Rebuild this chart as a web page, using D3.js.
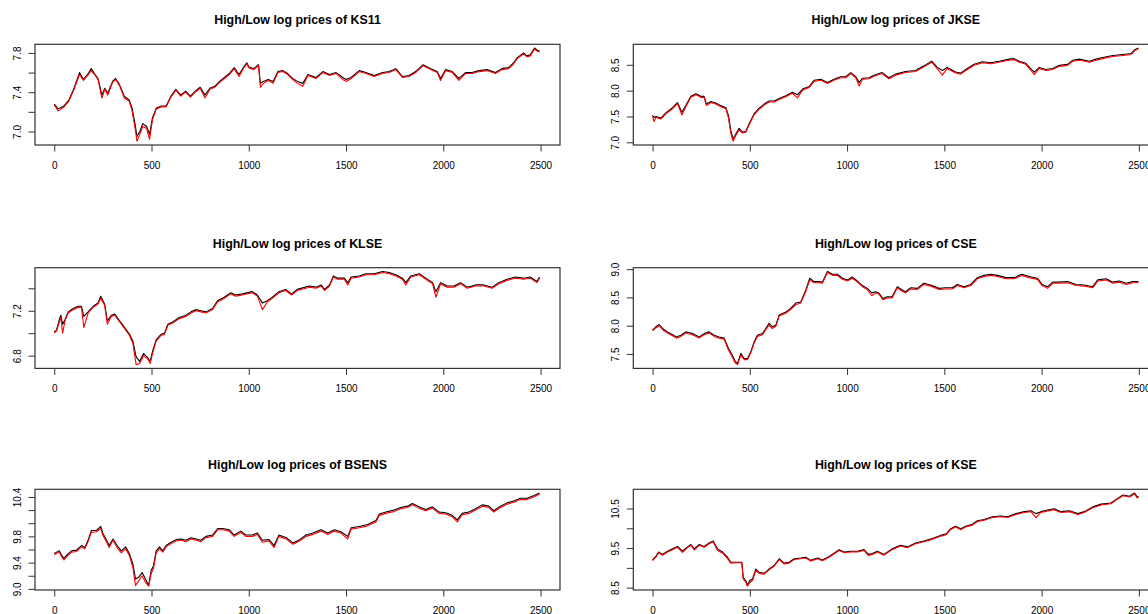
<!DOCTYPE html>
<html>
<head>
<meta charset="utf-8">
<script src="https://cdn.jsdelivr.net/npm/d3@7"></script>
<style>
  body { margin: 0; background: #ffffff; }
  svg { display: block; }
</style>
</head>
<body>
<svg id="chart" width="1148" height="614"></svg>
<script>
// ---- Daily high / low log prices (trading-day index -> log price) ----

const ks11Day = [0,20,50,75,100,130,150,175,190,210,225,245,260,275,300,315,335,360,385,400,415,425,440,455,475,490,505,525,550,575,600,625,650,675,700,725,750,775,800,825,850,875,900,925,950,975,990,1000,1025,1050,1060,1075,1100,1125,1150,1175,1200,1225,1250,1278,1304,1346,1381,1415,1449,1483,1500,1526,1568,1602,1645,1688,1722,1756,1790,1824,1858,1896,1935,1969,1986,2012,2046,2080,2114,2148,2183,2225,2268,2302,2336,2362,2379,2413,2430,2447,2469,2481,2495];
const ks11High = [7.28,7.23,7.26,7.32,7.43,7.60,7.53,7.59,7.64,7.58,7.54,7.37,7.44,7.39,7.51,7.54,7.48,7.36,7.32,7.24,7.08,6.95,7.00,7.08,7.05,6.97,7.14,7.24,7.26,7.26,7.36,7.43,7.37,7.41,7.36,7.41,7.45,7.37,7.44,7.46,7.51,7.55,7.59,7.65,7.58,7.66,7.70,7.66,7.64,7.68,7.49,7.51,7.53,7.51,7.61,7.62,7.59,7.54,7.51,7.49,7.58,7.55,7.61,7.58,7.60,7.55,7.53,7.55,7.62,7.60,7.57,7.60,7.61,7.64,7.56,7.57,7.61,7.68,7.64,7.61,7.54,7.63,7.61,7.54,7.60,7.60,7.62,7.63,7.60,7.64,7.65,7.70,7.75,7.80,7.77,7.78,7.85,7.83,7.82];
const ks11Low = [7.27,7.21,7.25,7.31,7.42,7.58,7.52,7.58,7.62,7.57,7.53,7.34,7.43,7.37,7.50,7.53,7.47,7.34,7.31,7.21,7.04,6.90,6.97,7.05,7.03,6.92,7.12,7.23,7.25,7.25,7.35,7.42,7.36,7.40,7.35,7.40,7.44,7.34,7.43,7.45,7.50,7.54,7.58,7.64,7.56,7.65,7.69,7.65,7.63,7.67,7.45,7.49,7.52,7.49,7.60,7.61,7.58,7.53,7.49,7.46,7.57,7.54,7.60,7.57,7.59,7.53,7.51,7.54,7.61,7.59,7.56,7.59,7.60,7.63,7.55,7.56,7.60,7.67,7.63,7.60,7.52,7.62,7.60,7.52,7.59,7.59,7.61,7.62,7.59,7.63,7.64,7.69,7.74,7.79,7.76,7.77,7.84,7.82,7.81];

const jkseDay = [0,8,17,43,68,103,128,151,171,197,223,248,265,277,300,325,351,377,390,402,414,428,445,462,479,500,522,548,574,599,625,651,685,719,745,771,805,830,865,899,933,967,993,1019,1045,1062,1079,1113,1139,1180,1215,1249,1301,1352,1395,1435,1464,1490,1515,1558,1584,1610,1653,1696,1739,1782,1833,1859,1885,1919,1945,1962,1988,2022,2057,2091,2134,2160,2194,2246,2280,2314,2366,2418,2461,2478,2498];
const jkseHigh = [7.52,7.48,7.50,7.47,7.57,7.67,7.77,7.58,7.71,7.89,7.94,7.89,7.89,7.74,7.79,7.76,7.71,7.67,7.52,7.23,7.07,7.16,7.27,7.20,7.21,7.39,7.55,7.66,7.74,7.80,7.80,7.85,7.90,7.97,7.92,8.03,8.08,8.20,8.22,8.16,8.22,8.27,8.27,8.35,8.27,8.16,8.24,8.25,8.30,8.35,8.25,8.32,8.37,8.39,8.48,8.57,8.45,8.39,8.45,8.36,8.34,8.41,8.51,8.56,8.54,8.57,8.61,8.62,8.57,8.53,8.42,8.36,8.45,8.41,8.43,8.49,8.51,8.59,8.61,8.57,8.61,8.64,8.68,8.70,8.72,8.79,8.825];
const jkseLow = [7.50,7.40,7.48,7.45,7.55,7.65,7.75,7.53,7.69,7.87,7.92,7.87,7.87,7.71,7.77,7.74,7.69,7.65,7.48,7.18,7.02,7.13,7.24,7.18,7.19,7.37,7.53,7.64,7.72,7.78,7.78,7.83,7.88,7.95,7.86,8.01,8.06,8.18,8.20,8.14,8.20,8.25,8.25,8.33,8.25,8.09,8.22,8.23,8.28,8.33,8.23,8.30,8.35,8.37,8.46,8.55,8.42,8.30,8.43,8.34,8.32,8.39,8.49,8.54,8.52,8.55,8.59,8.60,8.55,8.51,8.39,8.31,8.43,8.39,8.41,8.47,8.49,8.57,8.59,8.55,8.59,8.62,8.66,8.68,8.70,8.77,8.81];

const klseDay = [0,12,26,34,43,55,72,97,123,140,152,174,200,225,239,259,273,294,311,336,362,387,404,421,439,459,481,493,507,524,549,567,584,609,643,677,703,729,754,780,814,840,874,908,933,968,1019,1044,1070,1096,1121,1155,1189,1220,1249,1312,1346,1372,1389,1415,1435,1457,1491,1509,1526,1568,1602,1645,1688,1722,1756,1790,1807,1833,1876,1910,1945,1962,1986,2020,2055,2089,2123,2166,2208,2251,2285,2328,2370,2413,2447,2481,2495];
const klseHigh = [7.01,7.03,7.12,7.16,7.08,7.12,7.19,7.22,7.24,7.24,7.15,7.19,7.24,7.27,7.33,7.26,7.11,7.16,7.17,7.11,7.05,6.99,6.93,6.79,6.75,6.82,6.78,6.75,6.85,6.94,6.99,7.00,7.08,7.10,7.14,7.16,7.19,7.21,7.20,7.19,7.22,7.29,7.32,7.36,7.34,7.35,7.37,7.34,7.27,7.29,7.32,7.37,7.39,7.35,7.39,7.42,7.41,7.43,7.39,7.43,7.51,7.49,7.49,7.45,7.50,7.51,7.53,7.53,7.55,7.54,7.52,7.49,7.45,7.51,7.53,7.49,7.45,7.37,7.45,7.42,7.42,7.45,7.41,7.43,7.43,7.41,7.45,7.48,7.50,7.49,7.50,7.46,7.50];
const klseLow = [7.00,7.02,7.10,7.14,7.00,7.11,7.18,7.21,7.23,7.23,7.05,7.18,7.23,7.26,7.31,7.25,7.08,7.15,7.16,7.10,7.04,6.98,6.91,6.72,6.73,6.80,6.77,6.73,6.83,6.93,6.98,6.99,7.07,7.09,7.13,7.15,7.18,7.20,7.19,7.18,7.21,7.28,7.31,7.35,7.33,7.34,7.36,7.33,7.21,7.28,7.31,7.36,7.38,7.34,7.38,7.41,7.40,7.42,7.38,7.42,7.50,7.48,7.48,7.43,7.49,7.50,7.52,7.52,7.54,7.53,7.51,7.48,7.43,7.50,7.52,7.48,7.44,7.32,7.44,7.41,7.41,7.44,7.40,7.42,7.42,7.40,7.44,7.47,7.49,7.48,7.49,7.45,7.49];

const cseDay = [0,17,34,55,77,103,123,146,171,205,240,265,291,317,342,368,390,408,425,437,454,471,488,505,522,539,565,582,599,616,634,651,685,711,736,762,788,808,830,856,873,899,925,950,976,1002,1027,1053,1079,1104,1127,1147,1163,1184,1206,1232,1258,1284,1301,1326,1361,1395,1430,1473,1507,1541,1567,1601,1636,1670,1704,1739,1773,1816,1859,1899,1936,1979,2002,2031,2057,2091,2134,2177,2220,2263,2289,2332,2366,2400,2435,2469,2498];
const cseHigh = [7.92,7.98,8.02,7.94,7.89,7.84,7.80,7.83,7.89,7.86,7.80,7.86,7.89,7.83,7.80,7.78,7.60,7.49,7.37,7.33,7.51,7.42,7.42,7.54,7.71,7.83,7.86,7.95,8.04,7.98,8.01,8.19,8.24,8.31,8.40,8.42,8.63,8.84,8.78,8.78,8.77,8.96,8.91,8.91,8.84,8.81,8.86,8.79,8.71,8.66,8.58,8.60,8.58,8.48,8.51,8.51,8.69,8.63,8.60,8.67,8.66,8.75,8.72,8.66,8.67,8.67,8.73,8.69,8.73,8.85,8.89,8.91,8.89,8.85,8.85,8.91,8.87,8.84,8.73,8.69,8.77,8.77,8.78,8.73,8.72,8.69,8.81,8.83,8.77,8.79,8.75,8.78,8.78];
const cseLow = [7.91,7.96,8.00,7.92,7.87,7.82,7.78,7.81,7.87,7.84,7.78,7.84,7.87,7.81,7.78,7.76,7.57,7.46,7.34,7.31,7.48,7.40,7.40,7.52,7.69,7.81,7.84,7.93,8.01,7.95,7.99,8.17,8.22,8.29,8.37,8.40,8.61,8.81,8.76,8.76,8.75,8.94,8.89,8.89,8.82,8.79,8.84,8.77,8.69,8.64,8.53,8.58,8.56,8.46,8.49,8.49,8.67,8.61,8.58,8.65,8.64,8.73,8.70,8.64,8.65,8.65,8.71,8.67,8.71,8.83,8.87,8.89,8.87,8.83,8.83,8.89,8.85,8.82,8.71,8.66,8.75,8.75,8.76,8.71,8.70,8.67,8.79,8.81,8.75,8.77,8.73,8.76,8.76];

const bsensDay = [0,12,26,38,50,63,89,114,140,157,174,191,217,239,251,268,282,302,323,345,367,387,404,418,435,452,469,485,498,510,524,541,558,575,601,626,652,677,703,729,754,780,814,840,866,900,925,959,985,1019,1044,1070,1104,1130,1155,1193,1227,1261,1295,1329,1372,1406,1440,1474,1509,1526,1568,1611,1654,1671,1705,1747,1781,1816,1841,1875,1910,1944,1978,2012,2046,2072,2097,2131,2166,2200,2234,2259,2294,2328,2362,2396,2430,2464,2495];
const bsensHigh = [9.54,9.56,9.58,9.51,9.46,9.51,9.58,9.59,9.66,9.63,9.74,9.89,9.89,9.95,9.84,9.75,9.66,9.76,9.66,9.58,9.64,9.53,9.38,9.15,9.18,9.25,9.15,9.05,9.28,9.35,9.58,9.64,9.58,9.66,9.71,9.75,9.76,9.74,9.78,9.76,9.74,9.80,9.82,9.92,9.92,9.90,9.82,9.88,9.82,9.82,9.85,9.74,9.75,9.66,9.82,9.78,9.70,9.75,9.82,9.85,9.90,9.85,9.90,9.87,9.80,9.93,9.95,9.98,10.04,10.14,10.17,10.20,10.24,10.26,10.30,10.25,10.21,10.25,10.17,10.16,10.12,10.05,10.15,10.17,10.22,10.28,10.26,10.19,10.26,10.31,10.34,10.38,10.38,10.42,10.46];
const bsensLow = [9.52,9.54,9.56,9.49,9.44,9.49,9.56,9.57,9.64,9.61,9.72,9.86,9.87,9.92,9.81,9.72,9.63,9.74,9.63,9.55,9.61,9.50,9.33,9.05,9.13,9.20,9.10,9.04,9.23,9.31,9.55,9.61,9.56,9.64,9.69,9.73,9.74,9.72,9.76,9.74,9.72,9.78,9.80,9.90,9.90,9.88,9.80,9.86,9.80,9.80,9.83,9.71,9.73,9.63,9.80,9.76,9.68,9.73,9.80,9.83,9.88,9.83,9.88,9.85,9.76,9.91,9.93,9.96,10.02,10.12,10.15,10.18,10.22,10.24,10.28,10.23,10.19,10.23,10.15,10.14,10.10,10.02,10.13,10.15,10.20,10.26,10.24,10.17,10.24,10.29,10.32,10.36,10.36,10.40,10.44];

const kseDay = [0,17,31,51,77,103,128,154,180,197,214,240,265,291,312,334,360,385,402,428,459,466,479,488,500,514,531,548,574,599,625,651,676,702,728,762,788,813,848,873,908,942,959,985,1019,1053,1087,1110,1130,1156,1189,1232,1275,1309,1352,1395,1438,1481,1510,1533,1558,1584,1610,1644,1670,1704,1747,1790,1825,1868,1911,1945,1971,1997,2031,2065,2100,2143,2186,2220,2263,2306,2357,2383,2418,2452,2478,2490,2498];
const kseHigh = [9.20,9.29,9.40,9.34,9.42,9.48,9.54,9.42,9.53,9.59,9.48,9.59,9.54,9.63,9.68,9.48,9.40,9.27,9.14,9.14,9.14,8.76,8.68,8.56,8.68,8.72,8.97,8.89,8.86,8.97,9.06,9.23,9.12,9.14,9.23,9.25,9.27,9.19,9.25,9.20,9.29,9.40,9.46,9.40,9.42,9.42,9.46,9.34,9.36,9.42,9.34,9.48,9.57,9.53,9.63,9.68,9.74,9.82,9.86,9.99,10.05,9.99,10.05,10.10,10.19,10.22,10.29,10.31,10.29,10.37,10.42,10.44,10.37,10.42,10.46,10.49,10.42,10.44,10.37,10.42,10.54,10.61,10.64,10.73,10.84,10.81,10.89,10.80,10.80];
const kseLow = [9.18,9.27,9.38,9.32,9.40,9.46,9.52,9.39,9.51,9.57,9.45,9.57,9.52,9.61,9.66,9.44,9.37,9.24,9.12,9.13,9.13,8.72,8.64,8.535,8.63,8.68,8.94,8.86,8.84,8.95,9.04,9.21,9.10,9.12,9.21,9.23,9.25,9.17,9.23,9.18,9.27,9.38,9.44,9.38,9.40,9.40,9.44,9.31,9.34,9.40,9.32,9.46,9.55,9.51,9.61,9.66,9.72,9.80,9.84,9.97,10.03,9.96,10.03,10.08,10.17,10.20,10.27,10.29,10.27,10.35,10.40,10.42,10.27,10.40,10.44,10.47,10.40,10.42,10.35,10.40,10.52,10.59,10.62,10.71,10.82,10.79,10.87,10.77,10.78];

// ---- Axis ticks ----
const seriesLength = 2500;
const xTicks = [0, 500, 1000, 1500, 2000, 2500];

const ks11YTicks = [7.0, 7.2, 7.4, 7.6, 7.8];
const ks11YLabels = ["7.0", "", "7.4", "", "7.8"];
const jkseYTicks = [7.0, 7.5, 8.0, 8.5];
const jkseYLabels = ["7.0", "7.5", "8.0", "8.5"];
const klseYTicks = [6.8, 7.0, 7.2, 7.4];
const klseYLabels = ["6.8", "", "7.2", ""];
const cseYTicks = [7.5, 8.0, 8.5, 9.0];
const cseYLabels = ["7.5", "8.0", "8.5", "9.0"];
const bsensYTicks = [9.0, 9.2, 9.4, 9.6, 9.8, 10.0, 10.2, 10.4];
const bsensYLabels = ["9.0", "", "9.4", "", "9.8", "", "", "10.4"];
const kseYTicks = [8.5, 9.0, 9.5, 10.0, 10.5];
const kseYLabels = ["8.5", "", "9.5", "", "10.5"];

const markets = ["KS11", "JKSE", "KLSE", "CSE", "BSENS", "KSE"];

const panels = [
  { name: markets[0], day: ks11Day,  high: ks11High,  low: ks11Low,  yTicks: ks11YTicks,  yLabels: ks11YLabels },
  { name: markets[1], day: jkseDay,  high: jkseHigh,  low: jkseLow,  yTicks: jkseYTicks,  yLabels: jkseYLabels },
  { name: markets[2], day: klseDay,  high: klseHigh,  low: klseLow,  yTicks: klseYTicks,  yLabels: klseYLabels },
  { name: markets[3], day: cseDay,   high: cseHigh,   low: cseLow,   yTicks: cseYTicks,   yLabels: cseYLabels },
  { name: markets[4], day: bsensDay, high: bsensHigh, low: bsensLow, yTicks: bsensYTicks, yLabels: bsensYLabels },
  { name: markets[5], day: kseDay,   high: kseHigh,   low: kseLow,   yTicks: kseYTicks,   yLabels: kseYLabels }
];

// ---- Layout: 3 rows x 2 columns of plot boxes ----
const colLeft = [35, 633.3];
const rowTop = [44.3, 267.7, 489.3];
const plotW = 525;
const plotH = 100.7;
const fontFamily = "'Liberation Sans', Arial, Helvetica, sans-serif";

const svg = d3.select("#chart");

// Extend a range by 4% on each side, like R's default axis style
function padded(lo, hi) {
  const d = (hi - lo) * 0.04;
  return [lo - d, hi + d];
}

panels.forEach((p, i) => {
  const left = colLeft[i % 2];
  const top = rowTop[Math.floor(i / 2)];

  const x = d3.scaleLinear()
    .domain(padded(1, seriesLength))
    .range([left, left + plotW]);

  const yMin = d3.min(p.low);
  const yMax = d3.max(p.high);
  const y = d3.scaleLinear()
    .domain(padded(yMin, yMax))
    .range([top + plotH, top]);

  const g = svg.append("g");

  const highPts = p.day.map((d, k) => [d, p.high[k]]);
  const lowPts = p.day.map((d, k) => [d, p.low[k]]);
  const line = d3.line().x(d => x(d[0])).y(d => y(d[1]));

  // High series in black, Low series drawn over it in red
  g.append("path")
    .attr("d", line(highPts))
    .attr("fill", "none")
    .attr("stroke", "#000000")
    .attr("stroke-width", 1.1)
    .attr("stroke-linejoin", "round");

  g.append("path")
    .attr("d", line(lowPts))
    .attr("fill", "none")
    .attr("stroke", "#ff0000")
    .attr("stroke-width", 1.1)
    .attr("stroke-linejoin", "round");

  // Plot frame
  g.append("rect")
    .attr("x", left)
    .attr("y", top)
    .attr("width", plotW)
    .attr("height", plotH)
    .attr("fill", "none")
    .attr("stroke", "#333333")
    .attr("stroke-width", 1.2);

  // X axis
  const xAxis = d3.axisBottom(x)
    .tickValues(xTicks)
    .tickSize(6.5)
    .tickPadding(10.5)
    .tickFormat(d3.format("d"));
  const gx = g.append("g")
    .attr("transform", `translate(0,${top + plotH})`)
    .call(xAxis);
  gx.select(".domain").remove();
  gx.selectAll(".tick line").attr("stroke", "#333333");
  gx.selectAll(".tick text")
    .attr("fill", "#000000")
    .style("font-family", fontFamily)
    .style("font-size", "10px");

  // Y axis with vertical labels
  const yAxis = d3.axisLeft(y)
    .tickValues(p.yTicks)
    .tickSize(6.5)
    .tickFormat((d, k) => p.yLabels[k]);
  const gy = g.append("g")
    .attr("transform", `translate(${left},0)`)
    .call(yAxis);
  gy.select(".domain").remove();
  gy.selectAll(".tick line").attr("stroke", "#333333");
  gy.selectAll(".tick text")
    .attr("x", 0)
    .attr("y", -14)
    .attr("dy", null)
    .attr("transform", "rotate(-90)")
    .attr("text-anchor", "middle")
    .attr("fill", "#000000")
    .style("font-family", fontFamily)
    .style("font-size", "10px");

  // Title
  g.append("text")
    .attr("x", left + plotW / 2)
    .attr("y", top - 20)
    .attr("text-anchor", "middle")
    .attr("fill", "#000000")
    .style("font-family", fontFamily)
    .style("font-weight", "bold")
    .style("font-size", "12.4px")
    .text(`High/Low log prices of ${p.name}`);
});
</script>
</body>
</html>
